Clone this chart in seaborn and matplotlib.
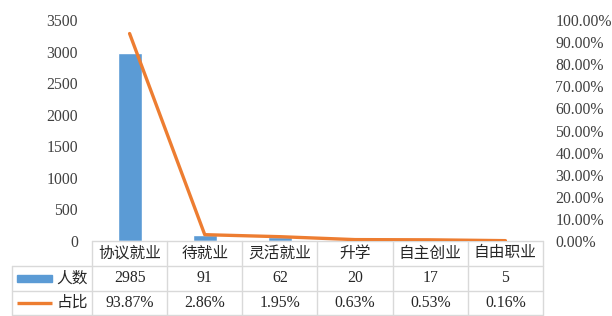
import matplotlib
matplotlib.use('Agg')
import matplotlib.pyplot as plt
import matplotlib.transforms as mtransforms
import seaborn as sns
import numpy as np

# --- DATA ---
categories = ['协议就业', '待就业', '灵活就业', '升学', '自主创业', '自由职业']
counts = [2985, 91, 62, 20, 17, 5]
shares = [93.87, 2.86, 1.95, 0.63, 0.53, 0.16]
row_names = ['人数', '占比']
left_ticks = [0, 500, 1000, 1500, 2000, 2500, 3000, 3500]
right_ticks = [0, 10, 20, 30, 40, 50, 60, 70, 80, 90, 100]

BLUE = '#5B9BD5'
ORANGE = '#ED7D31'
GRID = '#D9D9D9'
FS = 11.3

sns.set_style('white')
plt.rcParams['font.family'] = ['Liberation Serif', 'Noto Sans CJK SC', 'DejaVu Sans']

W, H = 612, 316
fig = plt.figure(figsize=(W / 100, H / 100), dpi=100)
ax_l, ax_r, ax_b, ax_t = 92, 543, 241, 20
ax = fig.add_axes([ax_l / W, (H - ax_b) / H, (ax_r - ax_l) / W, (ax_b - ax_t) / H])
ax_h = ax_b - ax_t
ax_w = ax_r - ax_l

# bars
sns.barplot(x=list(range(len(categories))), y=counts, color=BLUE, width=0.32,
            saturation=1, ax=ax, native_scale=True)
ax.set_xlim(-0.5, len(categories) - 0.5)
ax.set_ylim(0, 3500)
ax.set_yticks(left_ticks)
ax.set_xticks([])
ax.set_xlabel('')
ax.set_ylabel('')
ax.tick_params(axis='y', length=0, pad=10, labelsize=FS, colors='#404040')
for s in ax.spines.values():
    s.set_visible(False)

# share line on right axis
ax2 = ax.twinx()
sns.lineplot(x=list(range(len(categories))), y=shares, color=ORANGE, linewidth=2.4,
             ax=ax2, legend=False)
ax2.set_ylim(0, 100)
ax2.set_yticks(right_ticks)
ax2.set_yticklabels([f'{v:.2f}%' for v in right_ticks])
ax2.tick_params(axis='y', length=0, pad=9, labelsize=FS, colors='#404040')
ax2.set_ylabel('')
for s in ax2.spines.values():
    s.set_visible(False)
ax2.set_xlim(-0.5, len(categories) - 0.5)

# --- data table below the plot ---
trans = mtransforms.blended_transform_factory(ax.transData, ax.transAxes)
rows_y = [0, -25 / ax_h, -50 / ax_h, -74 / ax_h]
left_edge = -80 / ax_w
n = len(categories)

# horizontal lines
ax.plot([-0.5, n - 0.5], [rows_y[0]] * 2, color=GRID, lw=1, transform=trans, clip_on=False)
for y in rows_y[1:]:
    ax.plot([left_edge, 1], [y, y], color=GRID, lw=1, transform=ax.transAxes, clip_on=False)
# vertical lines
for i in range(n + 1):
    ax.plot([i - 0.5, i - 0.5], [rows_y[0], rows_y[3]], color=GRID, lw=1,
            transform=trans, clip_on=False)
ax.plot([left_edge, left_edge], [rows_y[1], rows_y[3]], color=GRID, lw=1,
        transform=ax.transAxes, clip_on=False)

txt_kw = dict(ha='center', va='center', fontsize=FS, color='#262626', clip_on=False)
mid = [(rows_y[k] + rows_y[k + 1]) / 2 for k in range(3)]
for i, cat in enumerate(categories):
    ax.text(i, mid[0], cat, transform=trans, **txt_kw)
    ax.text(i, mid[1], str(counts[i]), transform=trans, **txt_kw)
    ax.text(i, mid[2], f'{shares[i]:.2f}%', transform=trans, **txt_kw)

# row labels with legend keys
key_x0, key_x1 = -75 / ax_w, -40 / ax_w
ax.add_patch(plt.Rectangle((key_x0, mid[1] - 3.5 / ax_h), key_x1 - key_x0, 7 / ax_h,
                           color=BLUE, transform=ax.transAxes, clip_on=False))
ax.plot([key_x0, key_x1], [mid[2], mid[2]], color=ORANGE, lw=2.4,
        transform=ax.transAxes, clip_on=False, solid_capstyle='butt')
for k, name in enumerate(row_names):
    ax.text(-4 / ax_w, mid[k + 1], name, transform=ax.transAxes, ha='right', va='center',
            fontsize=FS, color='#262626', clip_on=False)

fig.savefig('out.png', dpi=100)
